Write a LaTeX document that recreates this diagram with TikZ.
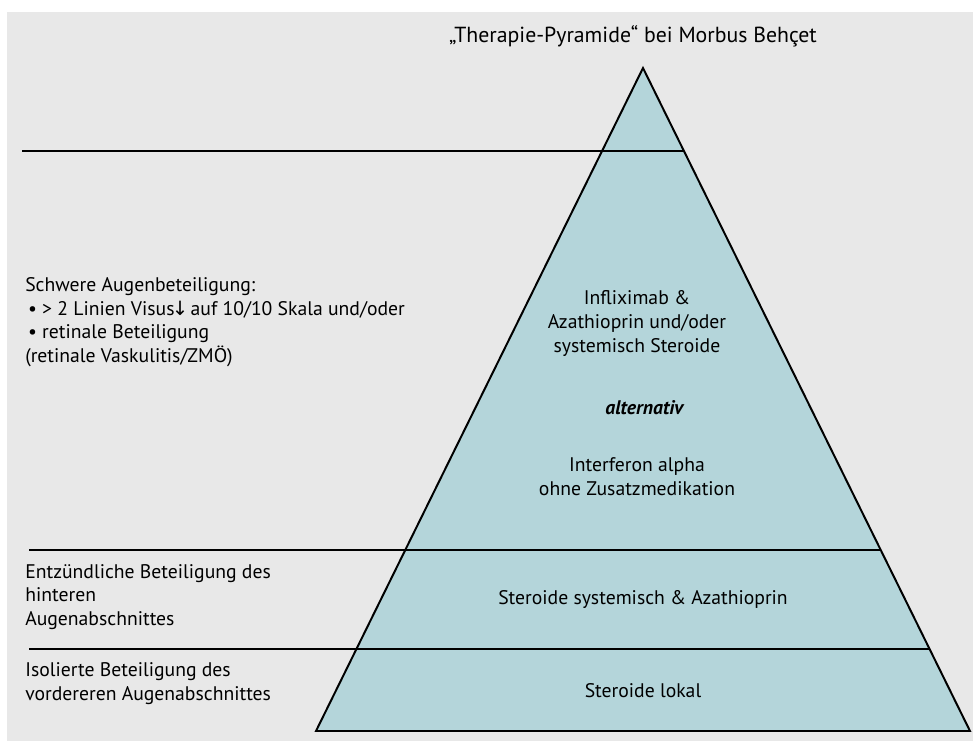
\documentclass[tikz,border=0pt]{standalone}
\usepackage{fontspec}
\setmainfont{PT Sans}
\newfontfamily\arrowfont{DejaVu Sans}
\usepackage{tikz}

\definecolor{hintergrund}{RGB}{232,232,232}
\definecolor{pyramide}{RGB}{180,213,218}

\tikzset{
  links/.style={anchor=west,align=left,inner sep=0pt},
  mitte/.style={align=center,inner sep=0pt},
  trenn/.style={line width=1.4pt}
}

\begin{document}
\begin{tikzpicture}[font=\fontsize{14pt}{16.8pt}\selectfont]
      % 背景
      \fill[white] (0,0) rectangle (24.325,18.525);
      \fill[hintergrund] (0.175,0) rectangle (24.325,18.225);

      % ピラミッド
      \filldraw[fill=pyramide,trenn,line join=miter] (16.075,16.825) -- (24.25,0.25) -- (7.9,0.25) -- cycle;

      % 横線
      \draw[trenn] (0.55,14.75) -- (17.10,14.75);
      \draw[trenn] (0.725,4.775) -- (22.02,4.775);
      \draw[trenn] (0.725,2.3) -- (23.24,2.3);

      % タイトル
      \node[mitte,font=\fontsize{15.5pt}{18pt}\selectfont] (titel) at (15.825,17.625) {„Therapie-Pyramide“ bei Morbus Behçet};

      % 左のテキスト
      \node[links] (schwer) at (0.625,10.475) {Schwere Augenbeteiligung:\\
        \hspace{2pt}• > 2 Linien Visus{\arrowfont\kern-2pt↓\kern-2pt} auf 10/10 Skala und/oder\\
        \hspace{2pt}• retinale Beteiligung\\
        (retinale Vaskulitis/ZMÖ)};
      \node[links] (hinten) at (0.625,3.6) {Entzündliche Beteiligung des\\hinteren\\Augenabschnittes};
      \node[links] (vorne) at (0.625,1.4375) {Isolierte Beteiligung des\\vordereren Augenabschnittes};

      % ピラミッドのテキスト
      \node[mitte] (inflix) at (15.925,10.4375) {Infliximab \&\\Azathioprin und/oder\\systemisch Steroide};
      \node[mitte] (alt) at (16.125,8.325) {\textbf{\textit{alternativ}}};
      \node[mitte] (interf) at (15.925,6.6125) {Interferon alpha\\ohne Zusatzmedikation};
      \node[mitte] (sys) at (16.075,3.525) {Steroide systemisch \& Azathioprin};
      \node[mitte] (lokal) at (16.075,1.25) {Steroide lokal};
    \end{tikzpicture}
\end{document}
